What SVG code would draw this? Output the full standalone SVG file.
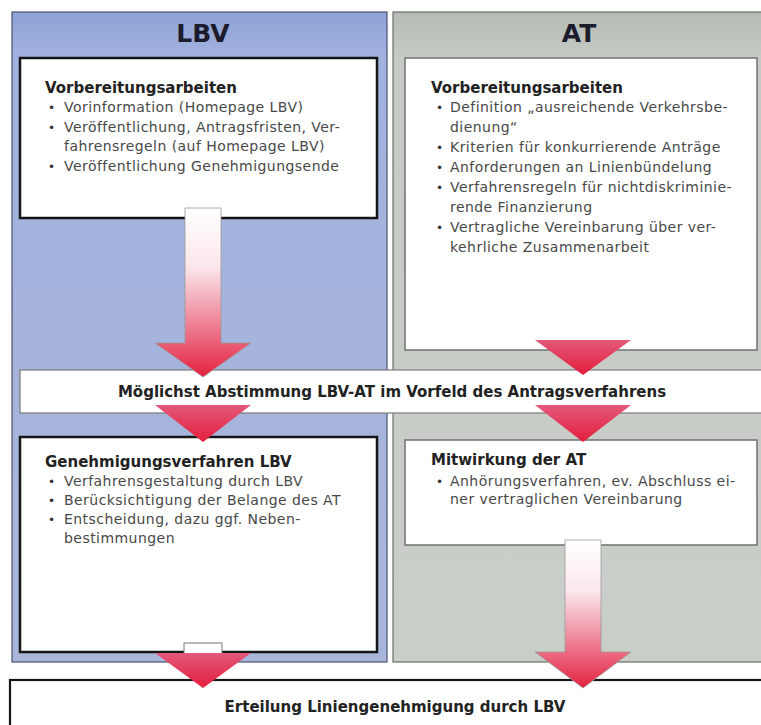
<svg xmlns="http://www.w3.org/2000/svg" width="761" height="725" viewBox="0 0 761 725">
  <defs>
    <linearGradient id="lbvBody" x1="0" y1="0" x2="0" y2="1">
      <stop offset="0" stop-color="#8fa2d6"/>
      <stop offset="0.07" stop-color="#a2b2de"/>
      <stop offset="1" stop-color="#a9b6dc"/>
    </linearGradient>
    <linearGradient id="atBody" x1="0" y1="0" x2="0" y2="1">
      <stop offset="0" stop-color="#b6bab5"/>
      <stop offset="0.07" stop-color="#c6cac5"/>
      <stop offset="1" stop-color="#cacec9"/>
    </linearGradient>
    <linearGradient id="arrowL1" gradientUnits="userSpaceOnUse" x1="0" y1="208" x2="0" y2="377">
      <stop offset="0" stop-color="#ffffff"/>
      <stop offset="0.35" stop-color="#fbe6ea"/>
      <stop offset="0.7" stop-color="#ee7d92"/>
      <stop offset="1" stop-color="#e4213f"/>
    </linearGradient>
    <linearGradient id="arrowA3" gradientUnits="userSpaceOnUse" x1="0" y1="540" x2="0" y2="688">
      <stop offset="0" stop-color="#ffffff"/>
      <stop offset="0.35" stop-color="#fbe6ea"/>
      <stop offset="0.7" stop-color="#ee7d92"/>
      <stop offset="1" stop-color="#e4213f"/>
    </linearGradient>
    <linearGradient id="head" x1="0" y1="0" x2="0" y2="1">
      <stop offset="0" stop-color="#e4587a"/>
      <stop offset="1" stop-color="#e41e3c"/>
    </linearGradient>
    <style>
      .lbvpanel { fill: url(#lbvBody); stroke: #4a5070; stroke-width: 1.2; }
      .atpanel { fill: url(#atBody); stroke: #6a6e6a; stroke-width: 1.2; }
      .boxL { fill: #ffffff; stroke: #151515; stroke-width: 2.5; }
      .boxA { fill: #ffffff; stroke: #707070; stroke-width: 1.5; }
      .band { fill: #ffffff; stroke: #7a7a7a; stroke-width: 1.2; }
      .bottom { fill: #ffffff; stroke: #151515; stroke-width: 2.2; }
      .hdr { font-family: "DejaVu Sans", Verdana, sans-serif; font-weight: bold; font-size: 25px; fill: #1c1c2c; text-anchor: middle; }
      .ttl { font-family: "DejaVu Sans", Verdana, sans-serif; font-weight: bold; font-size: 15px; fill: #222222; }
      .itm { font-family: "DejaVu Sans", Verdana, sans-serif; font-size: 14px; letter-spacing: 0.45px; fill: #484848; }
      .bul { font-family: "DejaVu Sans", Verdana, sans-serif; font-size: 12px; fill: #333333; }
      .ctr { font-family: "DejaVu Sans", Verdana, sans-serif; font-weight: bold; font-size: 15px; fill: #222222; text-anchor: middle; }
      .shaft { stroke: #9a9a9a; stroke-width: 0.8; }
      .hd { fill: url(#head); }
    </style>
  </defs>

  <g id="panel-lbv">
    <rect class="lbvpanel" x="12" y="12" width="375" height="650"/>
    <text class="hdr" x="203" y="42">LBV</text>
  </g>
  <g id="panel-at">
    <rect class="atpanel" x="393" y="12" width="370" height="650"/>
    <text class="hdr" x="579" y="42">AT</text>
  </g>

  <g id="lbv-vorbereitung">
    <rect class="boxL" x="20" y="58" width="357" height="160"/>
    <text class="ttl" x="45" y="93">Vorbereitungsarbeiten</text>
    <text class="bul" x="48" y="112">•</text><text class="itm" x="64" y="112">Vorinformation (Homepage LBV)</text>
    <text class="bul" x="48" y="131.5">•</text><text class="itm" x="64" y="131.5">Veröffentlichung, Antragsfristen, Ver-</text>
    <text class="itm" x="64" y="151">fahrensregeln (auf Homepage LBV)</text>
    <text class="bul" x="48" y="170.5">•</text><text class="itm" x="64" y="170.5">Veröffentlichung Genehmigungsende</text>
  </g>

  <g id="at-vorbereitung">
    <rect class="boxA" x="405" y="58" width="352" height="292"/>
    <text class="ttl" x="431" y="93">Vorbereitungsarbeiten</text>
    <text class="bul" x="436" y="112">•</text><text class="itm" x="450" y="112">Definition „ausreichende Verkehrsbe-</text>
    <text class="itm" x="450" y="132">dienung“</text>
    <text class="bul" x="436" y="152">•</text><text class="itm" x="450" y="152">Kriterien für konkurrierende Anträge</text>
    <text class="bul" x="436" y="172">•</text><text class="itm" x="450" y="172">Anforderungen an Linienbündelung</text>
    <text class="bul" x="436" y="192">•</text><text class="itm" x="450" y="192">Verfahrensregeln für nichtdiskriminie-</text>
    <text class="itm" x="450" y="212">rende Finanzierung</text>
    <text class="bul" x="436" y="232">•</text><text class="itm" x="450" y="232">Vertragliche Vereinbarung über ver-</text>
    <text class="itm" x="450" y="252">kehrliche Zusammenarbeit</text>
  </g>

  <g id="abstimmung">
    <rect class="band" x="20" y="370" width="745" height="43"/>
    <text class="ctr" x="392" y="397">Möglichst Abstimmung LBV-AT im Vorfeld des Antragsverfahrens</text>
  </g>

  <g id="lbv-genehmigung">
    <rect class="boxL" x="20" y="437" width="357" height="215"/>
    <text class="ttl" x="45" y="467">Genehmigungsverfahren LBV</text>
    <text class="bul" x="48" y="486">•</text><text class="itm" x="64" y="486">Verfahrensgestaltung durch LBV</text>
    <text class="bul" x="48" y="505">•</text><text class="itm" x="64" y="505">Berücksichtigung der Belange des AT</text>
    <text class="bul" x="48" y="524">•</text><text class="itm" x="64" y="524">Entscheidung, dazu ggf. Neben-</text>
    <text class="itm" x="64" y="543">bestimmungen</text>
  </g>

  <g id="at-mitwirkung">
    <rect class="boxA" x="405" y="440" width="352" height="105"/>
    <text class="ttl" x="431" y="465">Mitwirkung der AT</text>
    <text class="bul" x="436" y="486">•</text><text class="itm" x="450" y="486">Anhörungsverfahren, ev. Abschluss ei-</text>
    <text class="itm" x="450" y="504">ner vertraglichen Vereinbarung</text>
  </g>

  <g id="erteilung">
    <rect class="bottom" x="10" y="680" width="755" height="50"/>
    <text class="ctr" x="395" y="712">Erteilung Liniengenehmigung durch LBV</text>
  </g>

  <g id="connectors">
    <path class="shaft" fill="url(#arrowL1)" d="M185,208 L221,208 L221,343 L251,343 L203,377 L155,343 L185,343 Z"/>
    <path class="hd" d="M535,340 L631,340 L583,375 Z"/>
    <path class="hd" d="M155,405 L251,405 L203,442 Z"/>
    <path class="hd" d="M535,405 L631,405 L583,442 Z"/>
    <rect x="184" y="643" width="38" height="12" fill="#ffffff" stroke="#777777" stroke-width="1"/>
    <path class="hd" d="M155,653 L251,653 L203,688 Z"/>
    <path class="shaft" fill="url(#arrowA3)" d="M565,540 L601,540 L601,652 L631,652 L583,688 L535,652 L565,652 Z"/>
  </g>
</svg>
